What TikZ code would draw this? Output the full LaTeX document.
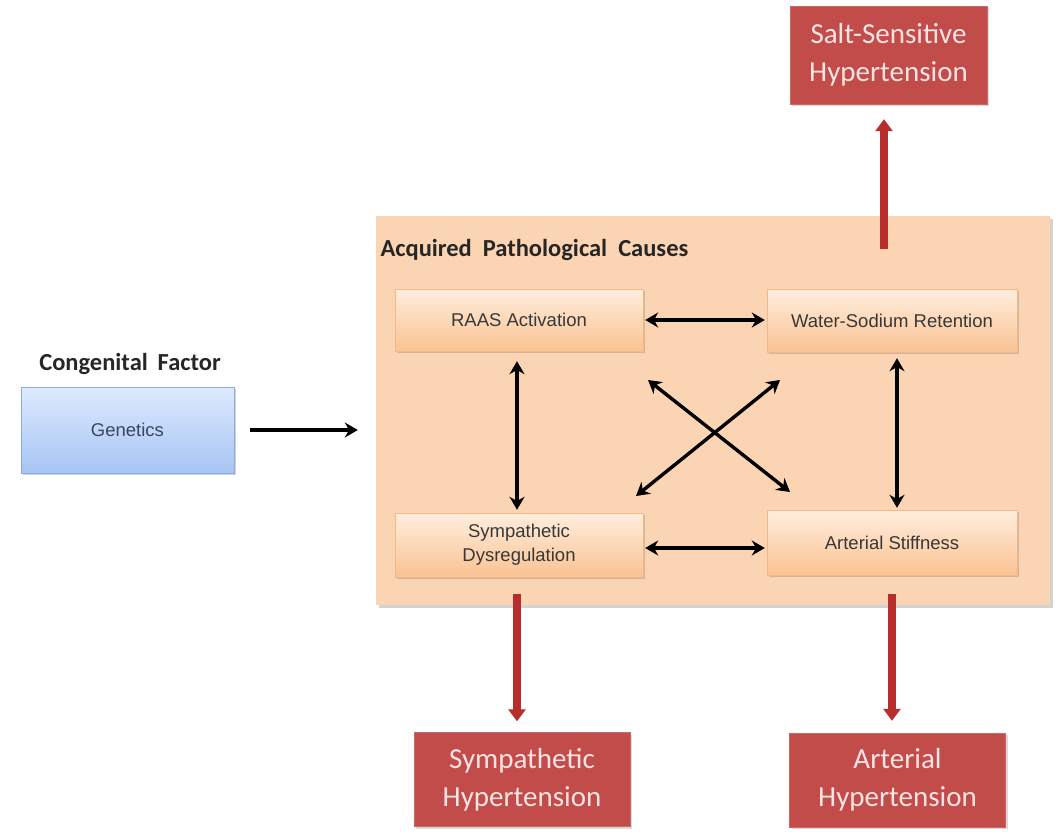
\documentclass[tikz,border=0pt]{standalone}
\usepackage{fontspec}
\setmainfont{Liberation Sans}
\newfontfamily\calfont{Carlito}
\usetikzlibrary{arrows.meta,shadows}
\definecolor{redbox}{RGB}{194,76,74}
\definecolor{redarrow}{RGB}{185,45,45}
\definecolor{redtext}{RGB}{252,228,228}
\definecolor{peach}{RGB}{251,212,180}
\definecolor{orTop}{RGB}{255,238,222}
\definecolor{orBot}{RGB}{250,194,146}
\definecolor{orBorder}{RGB}{244,184,132}
\definecolor{blTop}{RGB}{222,234,255}
\definecolor{blBot}{RGB}{166,196,244}
\definecolor{blBorder}{RGB}{140,170,220}
\tikzset{
  innerbox/.style={draw=orBorder, top color=orTop, bottom color=orBot,
    minimum width=248pt, minimum height=62pt, align=center, inner sep=2pt,
    font=\fontsize{18.5}{24}\selectfont, text=black!78,
    drop shadow={shadow xshift=2pt, shadow yshift=-2pt, opacity=0.35, fill=black!50}},
  genbox/.style={draw=blBorder, top color=blTop, bottom color=blBot,
    minimum width=213pt, minimum height=86pt, align=center,
    font=\fontsize{18.5}{22}\selectfont, text={rgb,255:red,60;green,70;blue,95},
    drop shadow={shadow xshift=2pt, shadow yshift=-2pt, opacity=0.35, fill=black!50}},
  redbox/.style={draw=redbox!85!white, fill=redbox, minimum width=216pt, minimum height=94pt,
    align=center, font=\calfont\fontsize{29}{38}\selectfont, text=redtext,
    drop shadow={shadow xshift=2pt, shadow yshift=-2pt, opacity=0.3, fill=black!50}},
  bigbox/.style={fill=peach, draw=none,
    drop shadow={shadow xshift=3pt, shadow yshift=-3pt, opacity=0.35, fill=black!50}},
  titletext/.style={font=\calfont\bfseries\fontsize{24.5}{28}\selectfont, text=black!85},
  blarrow/.style={draw=black, line width=3.4pt,
    {Stealth[length=13pt,width=15pt]}-{Stealth[length=13pt,width=15pt]}},
  onearrow/.style={draw=black, line width=3.4pt, -{Stealth[length=13pt,width=15pt]}},
  redarr/.style={draw=redarrow, line width=8pt, -{Triangle[length=12pt,width=17pt]}},
}
\begin{document}
\begin{tikzpicture}[x=1pt,y=-1pt]
\useasboundingbox (0,0) rectangle (1061,836);
% big box
\node[bigbox, minimum width=674pt, minimum height=389pt, inner sep=0pt] (big) at (713,410.5) {};
\node[titletext, anchor=west] (acq) at (377,250) {Acquired\hspace{0.45em}Pathological\hspace{0.45em}Causes};

% red output boxes
\node[redbox, minimum width=197pt, minimum height=98pt] (salt) at (888.5,55) {Salt-Sensitive\\Hypertension};
\node[redbox] (symh) at (522,779.5) {Sympathetic\\Hypertension};
\node[redbox] (arth) at (897.5,780) {Arterial\\Hypertension};

% red arrows
\coordinate (su) at (884,249);
\coordinate (sd) at (517,594);
\coordinate (ad) at (892,594);
\draw[redarr, shorten >=15pt] (su) -- (salt.south -| su);
\draw[redarr, shorten >=11pt] (sd) -- (symh.north -| sd);
\draw[redarr, shorten >=12pt] (ad) -- (arth.north -| ad);

% inner boxes
\node[innerbox] (raas) at (519,320) {RAAS Activation};
\node[innerbox, minimum width=250pt, minimum height=63pt] (water) at (892,320.5) {Water-Sodium Retention};
\node[innerbox, minimum height=64pt] (symd) at (519,545) {Sympathetic\\Dysregulation};
\node[innerbox, minimum width=250pt, minimum height=65pt] (art) at (892,542.5) {Arterial Stiffness};

% genetics
\node[titletext] (cong) at (130,364) {Congenital\hspace{0.4em}Factor};
\node[genbox] (gen) at (127.5,430) {Genetics};

% black arrows
\draw[onearrow, shorten <=16pt, shorten >=18pt] (gen.east) -- (gen.east -| big.west);
\draw[blarrow, shorten <=2pt, shorten >=2pt] (raas.east) -- (water.west |- raas.east);
\coordinate (hb1) at (symd.east |- 0,548);
\draw[blarrow, shorten <=2pt, shorten >=2pt] (hb1) -- (art.west |- hb1);
\draw[blarrow, shorten <=10pt, shorten >=3pt] (raas.south -| 517,0) -- (symd.north -| 517,0);
\draw[blarrow, shorten <=6pt, shorten >=2pt] (water.south -| 897,0) -- (art.north -| 897,0);
\coordinate (d1a) at (648,380);
\coordinate (d1b) at (790,492);
\coordinate (d2a) at (780,380);
\coordinate (d2b) at (636,496);
\draw[blarrow] (d1a) -- (d1b);
\draw[blarrow] (d2a) -- (d2b);
\end{tikzpicture}
\end{document}
